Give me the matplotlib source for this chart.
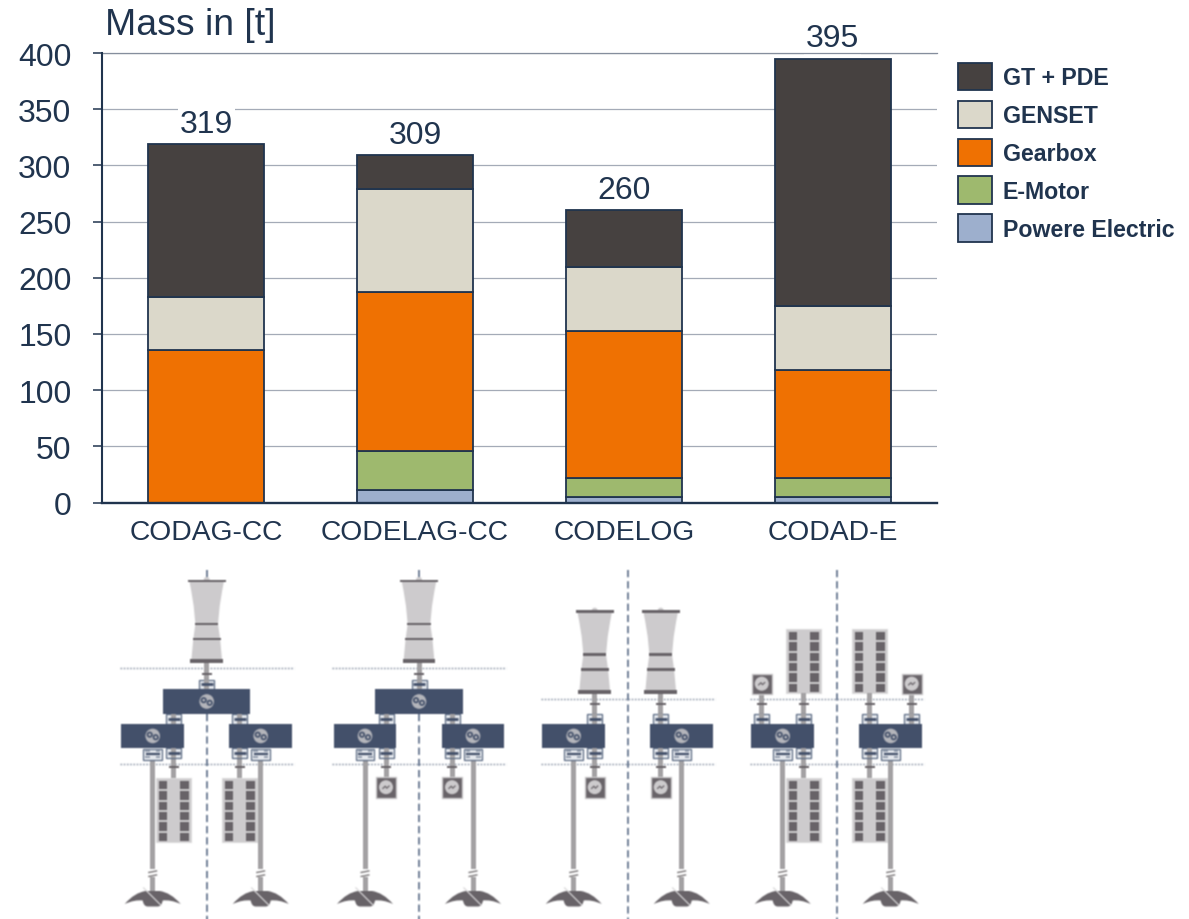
import matplotlib
matplotlib.use('Agg')
import numpy as np
import matplotlib.pyplot as plt
from matplotlib.patches import Rectangle, Circle, Polygon, PathPatch
from matplotlib.path import Path

plt.rcParams['font.family'] = ['Liberation Sans', 'DejaVu Sans']

categories = ['CODAG-CC', 'CODELAG-CC', 'CODELOG', 'CODAD-E']
power_electric = [0, 11, 5, 5]
e_motor = [0, 35, 17, 17]
gearbox = [136, 141, 131, 96]
genset = [47, 92, 57, 57]
gt_pde = [136, 30, 50, 220]
y_ticks = [0, 50, 100, 150, 200, 250, 300, 350, 400]

# stacking order, bottom to top
series = [('Powere Electric', power_electric, '#9dafcd'),
          ('E-Motor', e_motor, '#9eb96e'),
          ('Gearbox', gearbox, '#ef7102'),
          ('GENSET', genset, '#dbd8ca'),
          ('GT + PDE', gt_pde, '#464140')]

W, H = 1189, 920
INK = '#20344e'
LIGHT = '#cdcbcd'
DARK = '#686368'
SHAFT = '#a3a1a3'
SLATE = '#43506a'
PX = 0.72  # one pixel in points at dpi 100

fig = plt.figure(figsize=(W / 100, H / 100), dpi=100)

# ---- stacked bars ----
ax = fig.add_axes([102 / W, 1 - 503.5 / H, 835 / W, 449.5 / H])
x = np.arange(len(categories))
bottom = np.zeros(len(categories))
handles = []
for name, values, color in series:
    bars = ax.bar(x, values, 0.555, bottom=bottom, color=color, edgecolor=INK,
                  linewidth=1.3, label=name, zorder=3)
    handles.append(bars)
    bottom += np.array(values)

for xi, total in zip(x, bottom):
    ax.annotate('%d' % total, xy=(xi, total), xytext=(0, 9), textcoords='offset points',
                ha='center', va='baseline', fontsize=23, color=INK, zorder=4,
                bbox=dict(fc='white', ec='none', pad=1.5))

ax.set_xlim(-0.5, 3.5)
ax.set_ylim(0, 400)
ax.set_yticks(y_ticks)
ax.set_xticks(x)
ax.set_xticklabels(categories)
ax.tick_params(axis='y', length=6.5, width=1.1, color=INK, pad=15.5, labelsize=23, labelcolor=INK)
ax.tick_params(axis='x', length=0, pad=12, labelsize=20.3, labelcolor=INK)
ax.grid(axis='y', color='#a4abb7', linewidth=0.9, zorder=0)
ax.set_axisbelow(True)
# the top rule stays unbroken above the value labels
ax.axhline(400, color='#858e9d', linewidth=0.9, zorder=4.5, clip_on=False)
ax.spines['top'].set_visible(False)
ax.spines['right'].set_visible(False)
ax.spines['left'].set_color(INK)
ax.spines['bottom'].set_color(INK)
ax.spines['left'].set_linewidth(1.5)
ax.spines['bottom'].set_linewidth(1.7)
ax.spines['left'].set_zorder(5)
ax.spines['bottom'].set_zorder(5)

ax.annotate('Mass in [t]', xy=(0, 1), xycoords='axes fraction', xytext=(2, 13.6),
            textcoords='offset points', ha='left', va='baseline', fontsize=26.9, color=INK)

leg = ax.legend(handles[::-1], [s[0] for s in series[::-1]], loc='upper left',
                bbox_to_anchor=(958 / W, 1 - 64 / H), bbox_transform=fig.transFigure,
                frameon=False, fontsize=16.7, borderpad=0, borderaxespad=0,
                handlelength=1.46, handleheight=1.44, handletextpad=0.46, labelspacing=0.45)
for t in leg.get_texts():
    t.set_color(INK)
    t.set_fontweight('bold')

# ---- drive train sketches, laid out in pixel coordinates on their own canvas ----
sketch = plt.figure(figsize=(W / 100, H / 100), dpi=100)
ov = sketch.add_axes([0, 0, 1, 1])
ov.set_xlim(0, W)
ov.set_ylim(H, 0)
ov.set_axis_off()


def rect(x0, y0, w, h, fc, ec='none', lw=0, z=2):
    ov.add_patch(Rectangle((x0, y0), w, h, fc=fc, ec=ec, lw=lw, zorder=z))


def line(xs, ys, color, lw, z=3, **kw):
    ov.plot(xs, ys, color=color, lw=lw * PX, zorder=z, solid_capstyle='butt', **kw)


def turbine(cx, top):
    rows = [(0, 17.3), (10, 15.4), (25, 13), (43, 11.3), (58, 13.4), (80, 15.4)]
    pts = [(cx - hw, top + dy) for dy, hw in rows] + [(cx + hw, top + dy) for dy, hw in rows[::-1]]
    ov.add_patch(Circle((cx, top - 1), 3, fc=LIGHT, ec='none', zorder=2))
    ov.add_patch(Polygon(pts, closed=True, fc=LIGHT, ec='none', zorder=2))
    for dy, hw, th in [(0, 19, 2.8), (43, 11.7, 2.6), (58, 14, 2.6), (80, 16.3, 4)]:
        rect(cx - hw, top + dy - th / 2, 2 * hw, th, DARK, z=3)


def gear_icon(cx, cy):
    ov.add_patch(Circle((cx, cy), 7.3, fc='#b4b5bb', ec='none', zorder=5))
    for dx, dy in [(-3, -1.3), (3, 1.3)]:
        ov.add_patch(Circle((cx + dx, cy + dy), 2.2, fc='none', ec=SLATE, lw=1.2, zorder=6))


def gear_box(cx, y0, w, h=24.5):
    rect(cx - w / 2, y0, w, h, SLATE, z=4)
    gear_icon(cx, y0 + h / 2)


def coupling(cx, y0, wide=False):
    # clutch housing sitting against a gearbox
    w, h = (18.6, 11) if wide else (15, 9.6)
    rect(cx - w / 2, y0, w, h, '#e6e9ee', ec='#5d6c84', lw=0.9, z=3)
    if wide:
        line([cx - 7, cx + 7], [y0 + 5, y0 + 5], SLATE, 2.2, z=5)
        rect(cx - 7.5, y0 + 1.5, 4.5, 2, '#9aa3b2', z=4)
        rect(cx + 3, y0 + 1.5, 4.5, 2, '#9aa3b2', z=4)
        rect(cx - 7.5, y0 + 7, 4.5, 2.5, '#9aa3b2', z=4)
        rect(cx + 3, y0 + 7, 4.5, 2.5, '#9aa3b2', z=4)
    else:
        rect(cx - 2.5, y0, 5, h, SHAFT, z=4)
        line([cx - 5.8, cx + 5.8], [y0 + h / 2, y0 + h / 2], SLATE, 2.8, z=5)


def stub(cx, y0, y1, collar):
    # short shaft with a collar
    rect(cx - 2.5, min(y0, y1), 5, abs(y1 - y0), SHAFT, z=2)
    line([cx - 5, cx + 5], [collar, collar], DARK, 2)


def gen_set(cx, y0):
    rect(cx - 17.5, y0, 35, 64.3, LIGHT, ec='#dcdbdc', lw=0.8, z=2)
    for row in range(6):
        yy = y0 + 2.7 + row * 10.4
        rect(cx - 15, yy, 8.5, 8.5, DARK, z=3)
        rect(cx + 6.4, yy, 8.5, 8.5, DARK, z=3)


def e_motor_icon(cx, y0):
    rect(cx - 10, y0, 20, 20.5, DARK, ec='#c9c7c9', lw=1, z=3)
    ov.add_patch(Circle((cx, y0 + 10.2), 7, fc=LIGHT, ec='none', zorder=4))
    line([cx - 3.5, cx - 0.8, cx + 0.8, cx + 3.5],
         [y0 + 11.8, y0 + 9.2, y0 + 11.2, y0 + 8.6], DARK, 1.2, z=5)


def propeller_shaft(cx, y0):
    rect(cx - 2.5, y0, 5, 870 - y0, SHAFT, z=2)
    rect(cx - 2.5, 878, 5, 15, SHAFT, z=2)
    line([cx - 4.5, cx + 4.5], [873.6, 871.8], '#7a7678', 1.4)
    line([cx - 4.5, cx + 4.5], [877.6, 875.8], '#7a7678', 1.4)
    verts = [(cx - 7, 892), (cx - 18, 893.5), (cx - 28, 905),
             (cx - 18, 900.5), (cx - 10, 901.5), (cx - 9, 907.5), (cx - 5, 907.5),
             (cx + 5, 907.5), (cx + 9, 907.5), (cx + 10, 901.5), (cx + 18, 900.5),
             (cx + 28, 905), (cx + 18, 893.5), (cx + 7, 892), (cx - 7, 892)]
    codes = [Path.MOVETO, Path.CURVE3, Path.CURVE3,
             Path.CURVE3, Path.CURVE3, Path.CURVE3, Path.CURVE3,
             Path.LINETO, Path.CURVE3, Path.CURVE3, Path.CURVE3,
             Path.CURVE3, Path.CURVE3, Path.CURVE3, Path.LINETO]
    ov.add_patch(PathPatch(Path(verts, codes), fc=DARK, ec='none', zorder=3))
    line([cx - 9.5, cx + 8.5], [888.5, 906.5], '#d9d8d9', 1.2, z=4)


panel_x = [206.7, 419, 627.7, 836.7]
for i, cx in enumerate(panel_x):
    split = i >= 2  # one gas turbine or diesel per shaft line
    upper_y = 700 if split else 668.7

    for yy in (upper_y, 765):
        line([cx - 87, cx + 87], [yy, yy], '#8a95a6', 1.4, z=1, linestyle=(0, (1.2, 1.1)))

    # centre line, hidden behind the cross-connect gearbox on the first two
    spans = [(571, 920)] if split else [(571, 578), (715, 920)]
    for a, b in spans:
        ov.plot([cx, cx], [a, b], color='#6c7c94', lw=1.9 * PX,
                linestyle=(0, (3.8, 2.1)), zorder=1)

    for side in (-1, 1):
        shaft_x = cx + side * 54
        side_x = cx + side * 33

        gear_box(shaft_x, 724.7, 62.7)
        coupling(shaft_x, 749.5, wide=True)
        propeller_shaft(shaft_x, 755)
        coupling(side_x, 749)
        stub(side_x, 759, 780, 767.7)

        if i == 0 or i == 3:
            gen_set(side_x, 779)
        else:
            e_motor_icon(side_x, 778)

        coupling(side_x, 715)
        if i == 2:
            turbine(side_x, 612.7)
            stub(side_x, 694, 716, 705)
        if i == 3:
            gen_set(side_x, 630)
            stub(side_x, 694, 716, 705)
            motor_x = cx + side * 75
            e_motor_icon(motor_x, 674.5)
            stub(motor_x, 695, 716, 705)
            coupling(motor_x, 715)

    if not split:
        turbine(cx, 582)
        stub(cx, 663, 681, 675)
        coupling(cx, 680.5)
        gear_box(cx, 690, 87.2, 25)

# soften the sketches and place them under the chart
sketch.canvas.draw()
img = np.asarray(sketch.canvas.buffer_rgba())[:, :, :3] / 255.0
img = np.pad(img, ((1, 1), (1, 1), (0, 0)), mode='edge')
kernel = [0.25, 0.5, 0.25]
img = np.apply_along_axis(np.convolve, 0, img, kernel, mode='same')
img = np.apply_along_axis(np.convolve, 1, img, kernel, mode='same')
img = img[1:-1, 1:-1]
fig.figimage(np.clip(img, 0, 1), 0, 0, origin='upper', zorder=-1)

fig.savefig('out.png', dpi=100)
